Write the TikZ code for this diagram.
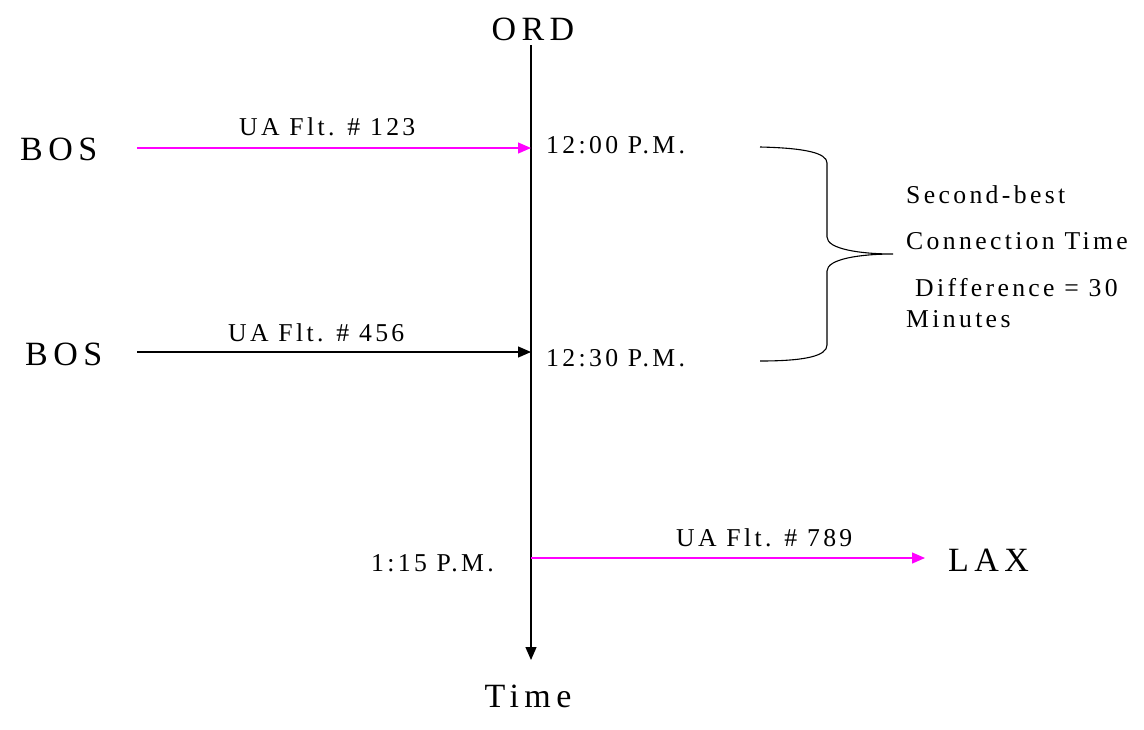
\documentclass[tikz,border=0pt]{standalone}
\usepackage{fontspec}
\setmainfont{Liberation Serif}
\newfontfamily\bigf[LetterSpace=16]{Liberation Serif}
\newfontfamily\smallf[LetterSpace=13]{Liberation Serif}
\usetikzlibrary{arrows.meta}
\definecolor{flightpink}{RGB}{255,0,255}
\begin{document}
\begin{tikzpicture}[x=1pt,y=-1pt,
  big/.style={inner sep=0pt,font=\bigf\fontsize{34}{40}\selectfont},
  small/.style={inner sep=0pt,font=\smallf\fontsize{25.7}{30}\selectfont},
  line/.style={line width=1.3pt},
  tip/.style={-{Triangle[length=13pt,width=11pt]}},
  pinkline/.style={line, tip, draw=flightpink}]
\useasboundingbox[fill=white] (0,0) rectangle (1144,729);
% axis
\node[big,anchor=base] (ord) at (533,40) {ORD};
\node[big,anchor=base] (time) at (528,707) {Time};
\coordinate (top) at (531,45);
\coordinate (bot) at (531,660);
\draw[line,tip] (top) -- (bot);
% flight 123
\node[big,anchor=base west] (bos1) at (20,160) {BOS};
\coordinate (s1) at (137,148);
\coordinate (e1) at (531,148);
\draw[pinkline] (s1) -- (e1);
\node[small,anchor=base west] (f1) at (239,135) {UA Flt. \# 123};
\node[small,anchor=base west] (t1) at (546,153) {12:00 P.M.};
% flight 456
\node[big,anchor=base west] (bos2) at (25,365) {BOS};
\coordinate (s2) at (137,352);
\coordinate (e2) at (531,352);
\draw[line,tip] (s2) -- (e2);
\node[small,anchor=base west] (f2) at (228,341) {UA Flt. \# 456};
\node[small,anchor=base west] (t2) at (546,366) {12:30 P.M.};
% flight 789
\node[small,anchor=base west] (t3) at (371,571) {1:15 P.M.};
\coordinate (s3) at (531,558);
\coordinate (e3) at (925,558);
\draw[pinkline] (s3) -- (e3);
\node[small,anchor=base west] (f3) at (676,546) {UA Flt. \# 789};
\node[big,anchor=base west] (lax) at (948,571) {LAX};
% brace
\draw[line width=1.1pt] (760,147) .. controls (805,148) and (827,153) .. (827,163)
  -- (827,237) .. controls (827,249) and (860,254) .. (893,254)
  .. controls (860,254) and (827,259) .. (827,271)
  -- (827,345) .. controls (827,356) and (805,361) .. (760,361);
\node[small,anchor=base west] (c1) at (906,203) {Second-best};
\node[small,anchor=base west] (c2) at (906,249) {Connection Time};
\node[small,anchor=base west] (c3) at (915,296) {Difference = 30};
\node[small,anchor=base west] (c4) at (906,327) {Minutes};
\end{tikzpicture}
\end{document}
